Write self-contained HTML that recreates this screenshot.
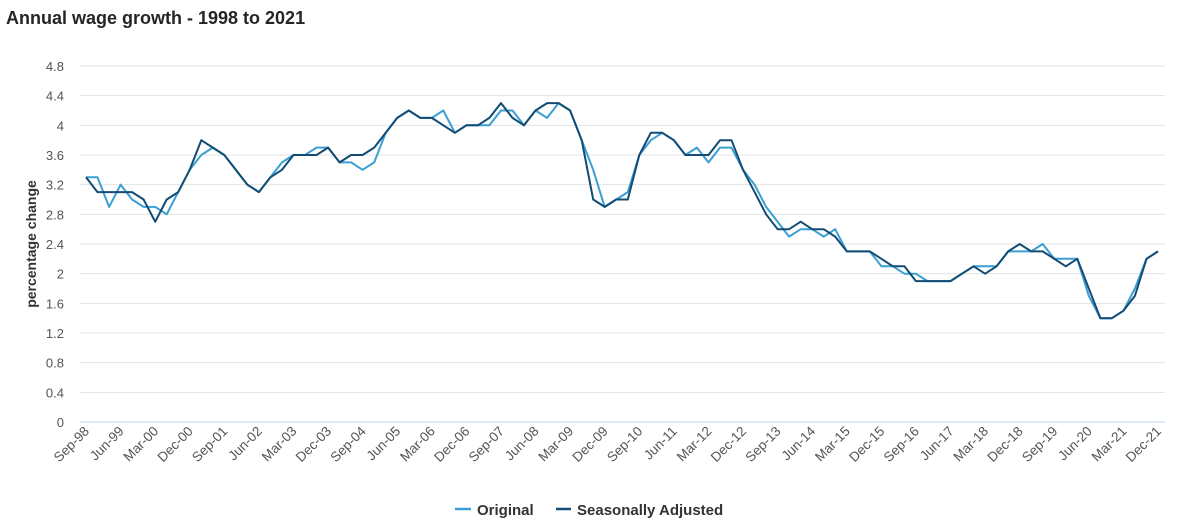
<!DOCTYPE html>
<html><head><meta charset="utf-8"><style>
body{margin:0;background:#fff;width:1179px;height:527px;overflow:hidden;font-family:"Liberation Sans",sans-serif;}
</style></head><body>
<svg id="c" width="1179" height="527" xmlns="http://www.w3.org/2000/svg" font-family="Liberation Sans, sans-serif">
<text x="6" y="24" font-size="18" font-weight="bold" fill="#252525">Annual wage growth - 1998 to 2021</text>
<text transform="translate(36,244) rotate(-90)" text-anchor="middle" font-size="14" font-weight="bold" fill="#333">percentage change</text>
<g id="g"></g>
<g font-size="15" font-weight="bold" fill="#333">
<line x1="455" y1="509" x2="471" y2="509" stroke="#3c9fd4" stroke-width="2.5"/>
<text x="477" y="515">Original</text>
<line x1="556" y1="509" x2="571" y2="509" stroke="#124c74" stroke-width="2.5"/>
<text x="577" y="515">Seasonally Adjusted</text>
</g>
</svg>
<script>
var sa=[3.3,3.1,3.1,3.1,3.1,3.0,2.7,3.0,3.1,3.4,3.8,3.7,3.6,3.4,3.2,3.1,3.3,3.4,3.6,3.6,3.6,3.7,3.5,3.6,3.6,3.7,3.9,4.1,4.2,4.1,4.1,4.0,3.9,4.0,4.0,4.1,4.3,4.1,4.0,4.2,4.3,4.3,4.2,3.8,3.0,2.9,3.0,3.0,3.6,3.9,3.9,3.8,3.6,3.6,3.6,3.8,3.8,3.4,3.1,2.8,2.6,2.6,2.7,2.6,2.6,2.5,2.3,2.3,2.3,2.2,2.1,2.1,1.9,1.9,1.9,1.9,2.0,2.1,2.0,2.1,2.3,2.4,2.3,2.3,2.2,2.1,2.2,1.8,1.4,1.4,1.5,1.7,2.2,2.3];
var or=[3.3,3.3,2.9,3.2,3.0,2.9,2.9,2.8,3.1,3.4,3.6,3.7,3.6,3.4,3.2,3.1,3.3,3.5,3.6,3.6,3.7,3.7,3.5,3.5,3.4,3.5,3.9,4.1,4.2,4.1,4.1,4.2,3.9,4.0,4.0,4.0,4.2,4.2,4.0,4.2,4.1,4.3,4.2,3.8,3.4,2.9,3.0,3.1,3.6,3.8,3.9,3.8,3.6,3.7,3.5,3.7,3.7,3.4,3.2,2.9,2.7,2.5,2.6,2.6,2.5,2.6,2.3,2.3,2.3,2.1,2.1,2.0,2.0,1.9,1.9,1.9,2.0,2.1,2.1,2.1,2.3,2.3,2.3,2.4,2.2,2.2,2.2,1.7,1.4,1.4,1.5,1.8,2.2,2.3];
var X0=86,DX=(1158-86)/93,Y0=422,K=(422-66)/4.8;
var s='';
for(var v=0;v<=12;v++){var y=Y0-v*0.4*K;var lab=(v*0.4).toFixed(1).replace(/\.0$/,'');
s+='<line x1="80" x2="1165" y1="'+y+'" y2="'+y+'" stroke="'+(v==0?'#c5d5e8':'#e3e3e3')+'" stroke-width="1"/>';
s+='<text x="64" y="'+(y+5)+'" text-anchor="end" font-size="13" fill="#555">'+lab+'</text>';}
var m=['Mar','Jun','Sep','Dec'];
for(var i=0;i<94;i+=3){var q=(2+i)%4;var yr=1998+Math.floor((2+i)/4);var x=X0+i*DX;
var t=m[q]+'-'+String(yr%100).padStart(2,'0');
s+='<text transform="translate('+(x+4)+',432) rotate(-45)" text-anchor="end" font-size="13.5" fill="#555">'+t+'</text>';}
function pl(d,c){var p=d.map(function(v,i){return (X0+i*DX).toFixed(1)+','+(Y0-v*K).toFixed(1)}).join(' ');
return '<polyline fill="none" stroke="'+c+'" stroke-width="2" stroke-linejoin="round" points="'+p+'"/>';}
s+=pl(or,'#3c9fd4')+pl(sa,'#124c74');
document.getElementById('g').innerHTML=s;
</script>
</body></html>
